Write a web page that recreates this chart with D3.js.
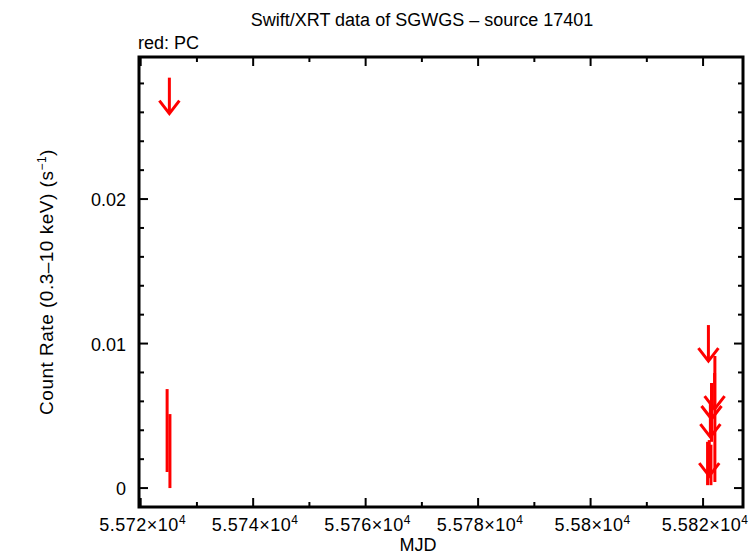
<!DOCTYPE html>
<html>
<head>
<meta charset="utf-8">
<script src="https://d3js.org/d3.v7.min.js"></script>
<style>
  body { margin: 0; background: white; }
  text { font-family: "Liberation Sans", Arial, sans-serif; fill: black; }
</style>
</head>
<body>
<div id="chart"></div>
<script>
// PC mode detections: time (MJD), rate, 1-sigma error
var pcTime = [55724.7, 55725.2, 55822.1, 55821.5, 55820.8, 55821.4];
var pcRate = [0.00398, 0.00256, 0.00478, 0.0050, 0.0017, 0.0016];
var pcErr  = [0.00287, 0.00256, 0.00436, 0.0018, 0.0015, 0.0014];

// PC mode upper limits
var ulTime = [55725.1, 55820.95, 55822.05, 55821.5, 55821.3, 55821.1];
var ulRate = [0.0284, 0.01128, 0.00796, 0.00727, 0.00602, 0.00332];

var xTicks = [55720, 55740, 55760, 55780, 55800, 55820];
var xTickLabels = ["5.572", "5.574", "5.576", "5.578", "5.58", "5.582"];
var yTicks = [0, 0.01, 0.02];
var yTickLabels = ["0", "0.01", "0.02"];

var width = 754, height = 554;
var mLeft = 139, mRight = 743, mTop = 57, mBottom = 507;

var svg = d3.select("#chart")
  .append("svg")
    .attr("width", width)
    .attr("height", height)
    .style("background", "white");

var x = d3.scaleLinear().domain([55719.7, 55827.1]).range([mLeft, mRight]);
var y = d3.scaleLinear().domain([-0.00131, 0.02983]).range([mBottom, mTop]);

// ticks (inward, mirrored on all four sides)
var xMinor = d3.range(55720, 55828, 10);
var yMinor = d3.range(0, 0.0298, 0.002);

var tg = svg.append("g").attr("stroke", "black").attr("stroke-width", 2);
xMinor.forEach(function(v) {
  var major = Math.round(v) % 20 === 0;
  var len = major ? 9 : 5;
  tg.append("line").attr("x1", x(v)).attr("x2", x(v)).attr("y1", mBottom).attr("y2", mBottom - len);
  tg.append("line").attr("x1", x(v)).attr("x2", x(v)).attr("y1", mTop).attr("y2", mTop + len);
});
yMinor.forEach(function(v) {
  var major = Math.abs(v / 0.01 - Math.round(v / 0.01)) < 1e-6;
  var len = major ? 9 : 5;
  tg.append("line").attr("x1", mLeft).attr("x2", mLeft + len).attr("y1", y(v)).attr("y2", y(v));
  tg.append("line").attr("x1", mRight).attr("x2", mRight - len).attr("y1", y(v)).attr("y2", y(v));
});

// frame
svg.append("rect")
  .attr("x", mLeft).attr("y", mTop)
  .attr("width", mRight - mLeft).attr("height", mBottom - mTop)
  .attr("fill", "none").attr("stroke", "black").attr("stroke-width", 3);

// x tick labels with superscript
xTicks.forEach(function(v, i) {
  var t = svg.append("text")
    .attr("x", x(v) + 2).attr("y", 531)
    .attr("text-anchor", "middle")
    .style("font-size", "18px")
    .style("letter-spacing", "0.5px");
  t.append("tspan").text(xTickLabels[i] + "×10");
  t.append("tspan").attr("dy", -7).style("font-size", "12px").text("4");
});

// y tick labels
yTicks.forEach(function(v, i) {
  svg.append("text")
    .attr("x", 126).attr("y", y(v) + 7)
    .attr("text-anchor", "end")
    .style("font-size", "18px")
    .text(yTickLabels[i]);
});

// titles
svg.append("text").attr("x", 422).attr("y", 26).attr("text-anchor", "middle")
  .style("font-size", "18px").text("Swift/XRT data of SGWGS \u2013 source 17401");
svg.append("text").attr("x", 138).attr("y", 49)
  .style("font-size", "18px").text("red: PC");
svg.append("text").attr("x", 418).attr("y", 551).attr("text-anchor", "middle")
  .style("font-size", "18px").text("MJD");

var yl = svg.append("text")
  .attr("transform", "translate(53,282) rotate(-90)")
  .attr("text-anchor", "middle")
  .style("font-size", "19px")
  .style("letter-spacing", "0.5px");
yl.append("tspan").text("Count Rate (0.3\u201310 keV) (s");
yl.append("tspan").attr("dy", -7).style("font-size", "12px").text("\u22121");
yl.append("tspan").attr("dy", 7).text(")");

// error bars
var pts = pcTime.map(function(t, i) { return { t: t, r: pcRate[i], e: pcErr[i] }; });
svg.append("g").selectAll("line")
  .data(pts)
  .enter()
  .append("line")
    .attr("x1", function(d) { return x(d.t); })
    .attr("x2", function(d) { return x(d.t); })
    .attr("y1", function(d) { return y(d.r - d.e); })
    .attr("y2", function(d) { return y(d.r + d.e); })
    .attr("stroke", "red")
    .attr("stroke-width", 3);

// upper limit arrows
var uls = ulTime.map(function(t, i) { return { t: t, r: ulRate[i] }; });
var ag = svg.append("g").attr("stroke", "red").attr("stroke-width", 3).attr("fill", "none");
uls.forEach(function(d) {
  var cx = x(d.t), y0 = y(d.r), y1 = y0 + 36;
  ag.append("line").attr("x1", cx).attr("x2", cx).attr("y1", y0).attr("y2", y1);
  ag.append("path").attr("d", "M" + (cx - 10) + "," + (y1 - 13) + "L" + cx + "," + y1 + "L" + (cx + 10) + "," + (y1 - 13));
});
</script>
</body>
</html>
